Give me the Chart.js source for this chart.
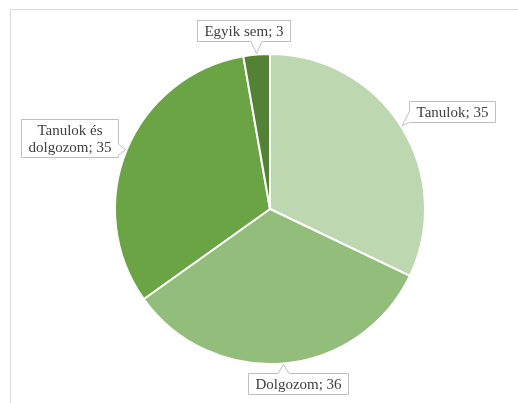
<!DOCTYPE html>
<html>
<head>
<meta charset="utf-8">
<script src="https://cdn.jsdelivr.net/npm/chart.js@4/dist/chart.umd.min.js"></script>
<style>
  html, body { margin: 0; padding: 0; background: #ffffff; }
  #wrap { position: relative; width: 518px; height: 403px; overflow: hidden; }
  #frame { position: absolute; left: 10px; top: 9px; width: 600px; height: 500px;
           border-left: 1px solid #d9d9d9; border-top: 1px solid #d9d9d9; }
  #c { position: absolute; left: 0; top: 0; }
</style>
</head>
<body>
<div id="wrap">
  <div id="frame"></div>
  <canvas id="c" width="518" height="403"></canvas>
</div>
<script>
// Válaszok megoszlása
const categories = ['Tanulok', 'Dolgozom', 'Tanulok és dolgozom', 'Egyik sem'];
const values = [35, 36, 35, 3];
const sliceColors = ['#bdd7b0', '#93bd7b', '#6aa444', '#548235'];

// Felirat sorai (a címke tördelése) és a dobozok eltolása a mutató csúcsától
const labelLines = [['Tanulok; 35'], ['Dolgozom; 36'], ['Tanulok és', 'dolgozom; 35'], ['Egyik sem; 3']];
const calloutOffsets = [[50, -14], [15, 19], [-56, -12], [-13, -23]];

function clamp(v, lo, hi) { return Math.max(lo, Math.min(hi, v)); }

const calloutPlugin = {
  id: 'callouts',
  afterDatasetsDraw(chart) {
    const ctx = chart.ctx;
    const meta = chart.getDatasetMeta(0);
    const lineH = 17, padX = 7, padY = 2, notch = 11;
    ctx.save();
    ctx.font = '15px "Liberation Serif", "Times New Roman", serif';
    meta.data.forEach((arc, i) => {
      const p = arc.getProps(['x', 'y', 'startAngle', 'endAngle', 'outerRadius'], true);
      const mid = (p.startAngle + p.endAngle) / 2;
      const tx = p.x + Math.cos(mid) * (p.outerRadius + 1);
      const ty = p.y + Math.sin(mid) * (p.outerRadius + 1);
      const lines = labelLines[i];
      const tw = Math.max(...lines.map(s => ctx.measureText(s).width));
      const w = Math.round(tw + padX * 2);
      const h = lines.length * lineH + padY * 2;
      const cx = tx + calloutOffsets[i][0];
      const cy = ty + calloutOffsets[i][1];
      const l = Math.round(cx - w / 2) + 0.5, t = Math.round(cy - h / 2) + 0.5;
      const r = l + w, b = t + h;

      // which edge carries the pointer
      const out = { left: l - tx, right: tx - r, top: t - ty, bottom: ty - b };
      let side = 'left';
      Object.keys(out).forEach(k => { if (out[k] > out[side]) side = k; });

      ctx.beginPath();
      ctx.moveTo(l, t);
      if (side === 'top') {
        const c = clamp(tx, l + notch / 2, r - notch / 2);
        ctx.lineTo(c - notch / 2, t); ctx.lineTo(tx, ty); ctx.lineTo(c + notch / 2, t);
      }
      ctx.lineTo(r, t);
      if (side === 'right') {
        const c = clamp(ty, t + notch / 2, b - notch / 2);
        ctx.lineTo(r, c - notch / 2); ctx.lineTo(tx, ty); ctx.lineTo(r, c + notch / 2);
      }
      ctx.lineTo(r, b);
      if (side === 'bottom') {
        const c = clamp(tx, l + notch / 2, r - notch / 2);
        ctx.lineTo(c + notch / 2, b); ctx.lineTo(tx, ty); ctx.lineTo(c - notch / 2, b);
      }
      ctx.lineTo(l, b);
      if (side === 'left') {
        const c = clamp(ty, t + notch / 2, b - notch / 2);
        ctx.lineTo(l, c + notch / 2); ctx.lineTo(tx, ty); ctx.lineTo(l, c - notch / 2);
      }
      ctx.closePath();
      ctx.fillStyle = '#ffffff';
      ctx.fill();
      ctx.lineWidth = 1;
      ctx.strokeStyle = '#bfbfbf';
      ctx.stroke();

      ctx.fillStyle = '#404040';
      ctx.textAlign = 'center';
      ctx.textBaseline = 'middle';
      lines.forEach((s, k) => {
        ctx.fillText(s, (l + r) / 2, t + padY + lineH * k + lineH / 2 + 1);
      });
    });
    ctx.restore();
  }
};

new Chart(document.getElementById('c'), {
  type: 'pie',
  data: {
    labels: categories,
    datasets: [{
      data: values,
      backgroundColor: sliceColors,
      borderColor: '#ffffff',
      borderWidth: 2,
      hoverOffset: 0
    }]
  },
  options: {
    responsive: false,
    devicePixelRatio: 1,
    animation: false,
    layout: { padding: { left: 114, right: 92, top: 53, bottom: 38 } },
    plugins: {
      legend: { display: false },
      tooltip: { enabled: false }
    }
  },
  plugins: [calloutPlugin]
});
</script>
</body>
</html>
